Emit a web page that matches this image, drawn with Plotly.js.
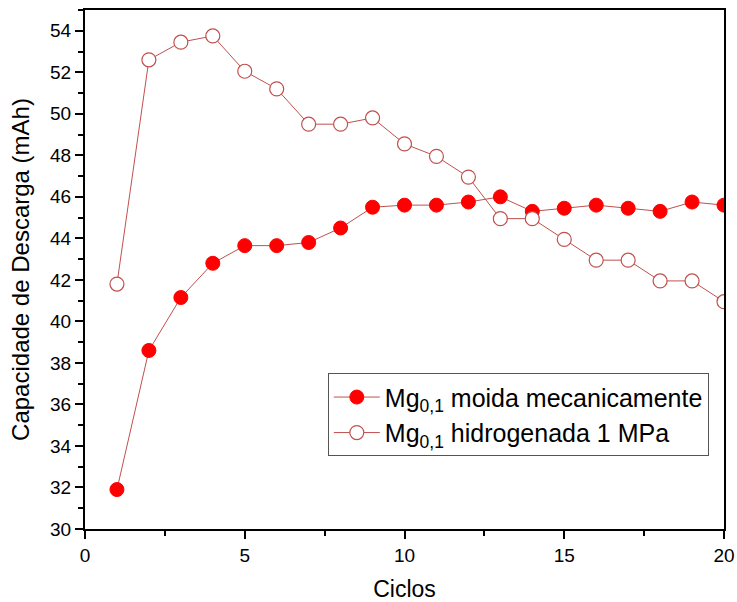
<!DOCTYPE html>
<html>
<head>
<meta charset="utf-8">
<script src="https://cdn.plot.ly/plotly-3.0.1.min.js"></script>
<style>html,body{margin:0;padding:0;background:#fff;}#chart{width:737px;height:602px;}</style>
</head>
<body>
<div id="chart"></div>
<script>
const ciclos = [1,2,3,4,5,6,7,8,9,10,11,12,13,14,15,16,17,18,19,20];
const moida = [31.9,38.6,41.15,42.8,43.65,43.65,43.8,44.5,45.5,45.6,45.6,45.75,46.0,45.3,45.45,45.6,45.45,45.3,45.75,45.6];
const hidrogenada = [41.8,52.6,53.45,53.75,52.05,51.2,49.5,49.5,49.8,48.55,47.95,46.95,44.95,44.95,43.95,42.95,42.95,41.95,41.95,40.95];
const nomeMoida = 'Mg<sub>0,1</sub> moida mecanicamente';
const nomeHidro = 'Mg<sub>0,1</sub> hidrogenada 1 MPa';

const lineColor = '#c0504d';
const traces = [
  {x: ciclos, y: moida, name: nomeMoida, mode: 'lines+markers', type: 'scatter',
   line: {color: lineColor, width: 1},
   marker: {symbol: 'circle', size: 14, color: '#ff0000', line: {color: '#ff0000', width: 1}}},
  {x: ciclos, y: hidrogenada, name: nomeHidro, mode: 'lines+markers', type: 'scatter',
   line: {color: lineColor, width: 1},
   marker: {symbol: 'circle', size: 14, color: '#ffffff', line: {color: lineColor, width: 1.2}}}
];
const axisCommon = {
  showline: true, linecolor: '#000', linewidth: 2, mirror: true,
  ticks: 'outside', ticklen: 8, tickwidth: 2, tickcolor: '#000',
  showgrid: false, zeroline: false,
  tickfont: {family: 'Liberation Sans, Arial, sans-serif', size: 19, color: '#000'}
};
const layout = {
  width: 737, height: 602,
  margin: {l: 85, r: 13, t: 10, b: 73},
  paper_bgcolor: '#fff', plot_bgcolor: '#fff',
  font: {family: 'Liberation Sans, Arial, sans-serif', color: '#000'},
  xaxis: Object.assign({}, axisCommon, {
    range: [0, 20], dtick: 5, tick0: 0,
    minor: {dtick: 2.5, ticks: 'outside', ticklen: 5, tickwidth: 2, tickcolor: '#000'},
    title: {text: 'Ciclos', font: {size: 23}, standoff: 19}
  }),
  yaxis: Object.assign({}, axisCommon, {
    range: [30, 55], dtick: 2, tick0: 30,
    minor: {dtick: 1, ticks: 'outside', ticklen: 5, tickwidth: 2, tickcolor: '#000'},
    title: {text: 'Capacidade de Descarga (mAh)', font: {size: 24}, standoff: 14}
  }),
  legend: {
    x: 0.380, y: 0.300, xanchor: 'left', yanchor: 'top',
    bordercolor: '#555', borderwidth: 1, bgcolor: '#fff',
    font: {size: 25, color: '#000'}, tracegroupgap: 0, itemwidth: 46
  },
  showlegend: true
};
Plotly.newPlot('chart', traces, layout, {displayModeBar: false, staticPlot: true});
</script>
</body>
</html>
